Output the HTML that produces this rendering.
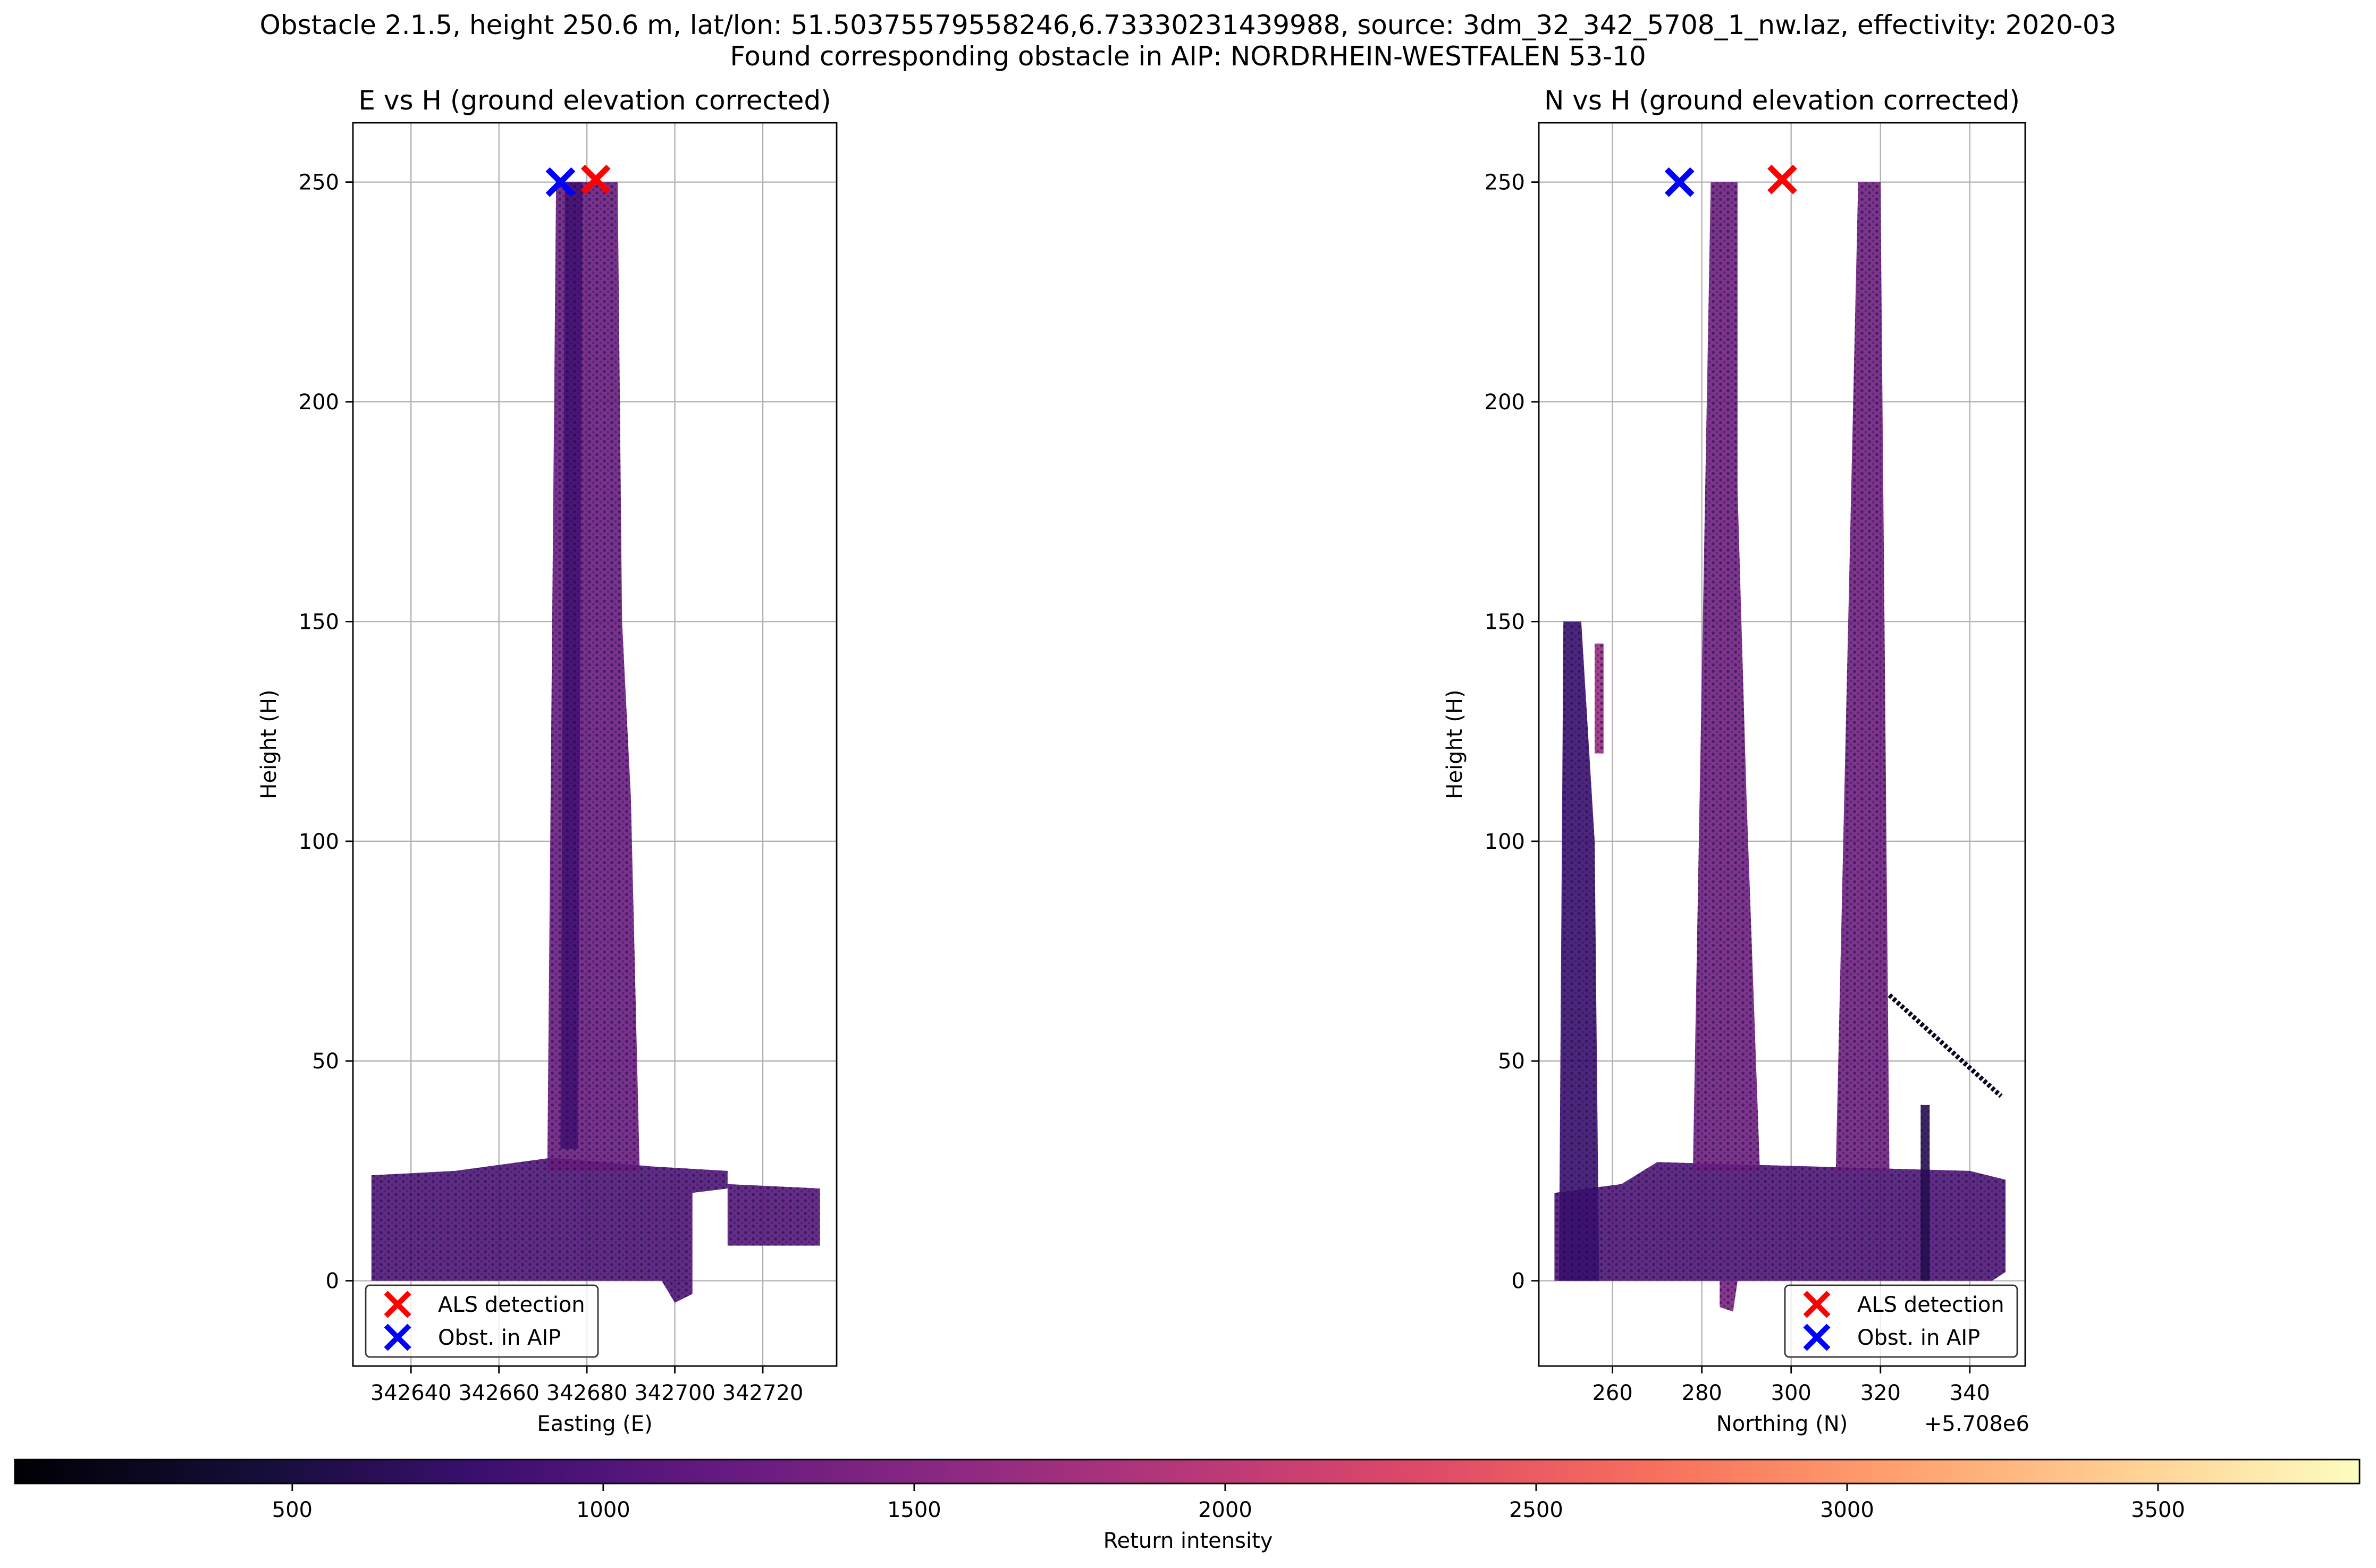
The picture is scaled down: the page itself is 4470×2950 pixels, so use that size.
<!DOCTYPE html>
<html><head><meta charset="utf-8"><style>
html,body{margin:0;padding:0;background:#fff;}
svg{display:block;font-family:"DejaVu Sans","Liberation Sans",sans-serif;}
</style></head><body>
<svg id="fig" width="4470" height="2950" viewBox="0 0 4470 2950" xmlns="http://www.w3.org/2000/svg">
<defs>
<pattern id="tex" width="14" height="12" patternUnits="userSpaceOnUse">
<circle cx="3" cy="3" r="3" fill="#1b0c41" opacity="0.55"/><circle cx="10" cy="9" r="2.5" fill="#2c115f" opacity="0.45"/>
</pattern>
<linearGradient id="magma" x1="0" x2="1" y1="0" y2="0">
<stop offset="0" stop-color="#000004"/><stop offset="0.1" stop-color="#140e36"/><stop offset="0.2" stop-color="#3b0f70"/><stop offset="0.3" stop-color="#641a80"/><stop offset="0.4" stop-color="#8c2981"/><stop offset="0.5" stop-color="#b73779"/><stop offset="0.6" stop-color="#de4968"/><stop offset="0.7" stop-color="#f7705c"/><stop offset="0.8" stop-color="#fe9f6d"/><stop offset="0.9" stop-color="#fecf92"/><stop offset="1" stop-color="#fcfdbf"/>
</linearGradient>
</defs>
<text x="2235" y="64" font-size="50" text-anchor="middle">Obstacle 2.1.5, height 250.6 m, lat/lon: 51.50375579558246,6.73330231439988, source: 3dm_32_342_5708_1_nw.laz, effectivity: 2020-03</text>
<text x="2235" y="123" font-size="50" text-anchor="middle">Found corresponding obstacle in AIP: NORDRHEIN-WESTFALEN 53-10</text>
<g id="left"></g>
<g id="right"></g>
<g id="cbar"></g>
</svg>
<script>
// ---- data ----
const yTicks = [0, 50, 100, 150, 200, 250];
const eTicks = [342640, 342660, 342680, 342700, 342720];
const nTicks = [260, 280, 300, 320, 340];
const cbTicks = [500, 1000, 1500, 2000, 2500, 3000, 3500];
// point-cloud regions: polygon vertices (data coords) and intensity
const eRegions = [
  [[342631,0],[342631,24],[342650,25],[342672,28],[342695,26],[342712,25],[342712,21],[342704,20],[342704,-3],[342700,-5],[342697,0]],
  [[342712,8],[342712,22],[342733,21],[342733,8]],
  [[342671,25],[342673,250],[342687,250],[342688,150],[342690,110],[342692,25]],
  [[342674,30],[342675,250],[342679,250],[342678,30]]
];
const eIntensity = [1000, 1050, 1250, 900];
const nRegions = [
  [[247,0],[247,20],[262,22],[270,27],[340,25],[348,23],[348,2],[345,0]],
  [[284,0],[284,-6],[287,-7],[288,0]],
  [[248,0],[249,150],[253,150],[256,100],[257,0]],
  [[278,25],[282,250],[288,250],[288,180],[290,110],[293,25]],
  [[310,25],[315,250],[320,250],[322,25]],
  [[329,0],[329,40],[331,40],[331,0]],
  [[256,120],[256,145],[258,145],[258,120]]
];
const nIntensity = [1000, 1400, 800, 1300, 1300, 600, 1700];
const nDiagE = [322, 347]; const nDiagH = [65, 42];
const eALS = [342682, 250.6]; const eAIP = [342674, 250];
const nALS = [298, 250.6]; const nAIP = [275, 250];
const cbMin = 54, cbMax = 3824;

const NS = "http://www.w3.org/2000/svg";
function mk(tag, attrs, parent){const e=document.createElementNS(NS,tag);for(const k in attrs)e.setAttribute(k,attrs[k]);parent.appendChild(e);return e;}
const stops=[[0,[0,0,4]],[.1,[20,14,54]],[.2,[59,15,112]],[.3,[100,26,128]],[.4,[140,41,129]],[.5,[183,55,121]],[.6,[222,73,104]],[.7,[247,112,92]],[.8,[254,159,109]],[.9,[254,207,146]],[1,[252,253,191]]];
function magma(v){let t=(v-cbMin)/(cbMax-cbMin);t=Math.max(0,Math.min(1,t));for(let i=1;i<stops.length;i++){if(t<=stops[i][0]){const a=stops[i-1],b=stops[i],f=(t-a[0])/(b[0]-a[0]);const c=a[1].map((x,j)=>Math.round(x+(b[1][j]-x)*f));return `rgb(${c})`;}}return "rgb(252,253,191)";}

const yTop=231, yBot=2570, hMin=-19.4, hMax=263.5;
const yS = h => yBot - (h-hMin)/(hMax-hMin)*(yBot-yTop);

function panel(g, L, R, xmin, xmax, ticks, tickFmt, regions, intens, als, aip, title, xlabel, legendX, isN){
  const xS = v => L + (v-xmin)/(xmax-xmin)*(R-L);
  const t=mk("text",{x:(L+R)/2,y:206,"font-size":50,"text-anchor":"middle"},g);t.textContent=title;
  
  
  ticks.forEach(v=>{const l=mk("line",{x1:xS(v),x2:xS(v),y1:yTop,y2:yBot,stroke:"#b0b0b0","stroke-width":2.3},g);
    
    });
  yTicks.forEach(v=>{const l=mk("line",{x1:L,x2:R,y1:yS(v),y2:yS(v),stroke:"#b0b0b0","stroke-width":2.3},g);
    
    });
  regions.forEach((poly,i)=>{const pts=poly.map(p=>xS(p[0])+","+yS(p[1])).join(" ");
    const p=mk("polygon",{points:pts,fill:magma(intens[i]),"fill-opacity":0.9},g);
    
    
    const p2=mk("polygon",{points:pts,fill:"url(#tex)"},g);
    
    });
  if(isN){const d=mk("line",{x1:xS(nDiagE[0]),y1:yS(nDiagH[0]),x2:xS(nDiagE[1]),y2:yS(nDiagH[1]),stroke:magma(250),"stroke-width":9,"stroke-dasharray":"6 4"},g);
    
    }
  function cross(pt,col,name){const cx=xS(pt[0]),cy=yS(pt[1]),s=24;
    const c=mk("path",{d:`M${cx-s},${cy-s}L${cx+s},${cy+s}M${cx-s},${cy+s}L${cx+s},${cy-s}`,stroke:col,"stroke-width":11,fill:"none"},g);
    
    }
  cross(aip,"#0000ff","aip-obstacle-marker");
  cross(als,"#ff0000","als-detection-marker");
  const fr=mk("rect",{x:L,y:yTop,width:R-L,height:yBot-yTop,fill:"none",stroke:"#000","stroke-width":2.8},g);
  
  
  yTicks.forEach(v=>{mk("line",{x1:L-14,x2:L,y1:yS(v),y2:yS(v),stroke:"#000","stroke-width":2.8},g);
    const tx=mk("text",{x:L-26,y:yS(v)+14,"font-size":40,"text-anchor":"end"},g);tx.textContent=v;
    
    });
  ticks.forEach(v=>{mk("line",{x1:xS(v),x2:xS(v),y1:yBot,y2:yBot+14,stroke:"#000","stroke-width":2.8},g);
    const tx=mk("text",{x:xS(v),y:2634,"font-size":40,"text-anchor":"middle"},g);tx.textContent=tickFmt(v);
    
    });
  const xl=mk("text",{x:(L+R)/2,y:2692,"font-size":40,"text-anchor":"middle"},g);xl.textContent=xlabel;
  
  
  const yl=mk("text",{x:0,y:0,"font-size":40,"text-anchor":"middle",transform:`translate(${L-145},${(yTop+yBot)/2}) rotate(-90)`},g);yl.textContent="Height (H)";
  
  
  if(isN){const off=mk("text",{x:R+8,y:2692,"font-size":40,"text-anchor":"end"},g);off.textContent="+5.708e6";
    
    }
  const lg=mk("g",{},g);
  
  
  mk("rect",{x:legendX,y:2418,width:437,height:135,rx:8,fill:"#fff","fill-opacity":0.8,stroke:"#333","stroke-width":2.8},lg);
  [["ALS detection","#ff0000",2454],["Obst. in AIP","#0000ff",2516]].forEach(r=>{const mx=legendX+60,s=22;
    const m=mk("path",{d:`M${mx-s},${r[2]-s}L${mx+s},${r[2]+s}M${mx-s},${r[2]+s}L${mx+s},${r[2]-s}`,stroke:r[1],"stroke-width":10,fill:"none"},lg);
    
    
    const tx=mk("text",{x:legendX+136,y:r[2]+14,"font-size":40},lg);tx.textContent=r[0];
    
    });
}
panel(document.getElementById("left"),664,1574,342626.8,342736.8,eTicks,v=>v,eRegions,eIntensity,eALS,eAIP,"E vs H (ground elevation corrected)","Easting (E)",688,false);
panel(document.getElementById("right"),2895,3810,243.5,352.4,nTicks,v=>v,nRegions,nIntensity,nALS,nAIP,"N vs H (ground elevation corrected)","Northing (N)",3358,true);

const cb=document.getElementById("cbar");
const CL=28, CR=4439, CT=2746, CB=2791;
const cS = v => CL + (v-cbMin)/(cbMax-cbMin)*(CR-CL);
const cr=mk("rect",{x:CL,y:CT,width:CR-CL,height:CB-CT,fill:"url(#magma)",stroke:"#000","stroke-width":2.8},cb);


cbTicks.forEach(v=>{mk("line",{x1:cS(v),x2:cS(v),y1:CB,y2:CB+14,stroke:"#000","stroke-width":2.8},cb);
  const tx=mk("text",{x:cS(v),y:2854,"font-size":40,"text-anchor":"middle"},cb);tx.textContent=v;
  
  });
const cl=mk("text",{x:2235,y:2912,"font-size":40,"text-anchor":"middle"},cb);cl.textContent="Return intensity";


</script>
</body></html>
